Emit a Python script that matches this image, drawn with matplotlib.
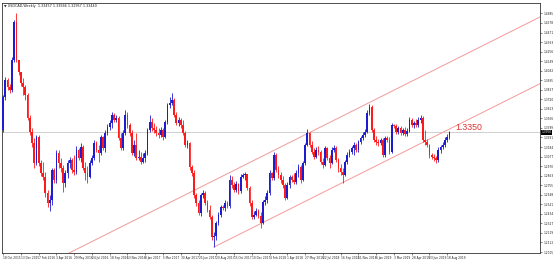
import matplotlib
matplotlib.use("Agg")
import matplotlib.pyplot as plt
import numpy as np
import pandas as pd

# weekly USDCAD bars (open = previous close)
first_open = 1.3376
close = [
    1.3746, 1.3937, 1.3859, 1.3825, 1.4162, 1.4589, 1.4162, 1.4027, 1.3903, 1.3859,
    1.3769, 1.3510, 1.3353, 1.3230, 1.3005, 1.3297, 1.3005, 1.2892, 1.2847, 1.2668,
    1.2555, 1.2589, 1.2926, 1.2814, 1.3117, 1.3005, 1.2948, 1.2780, 1.2892, 1.3005,
    1.3038, 1.2926, 1.2904, 1.3151, 1.3061, 1.3185, 1.2948, 1.2892, 1.2847, 1.3005,
    1.3061, 1.3230, 1.3151, 1.3117, 1.3297, 1.3173, 1.3342, 1.3409, 1.3454, 1.3544,
    1.3488, 1.3510, 1.3286, 1.3173, 1.3342, 1.3544, 1.3432, 1.3342, 1.3117, 1.3207,
    1.3061, 1.3072, 1.3016, 1.3061, 1.3117, 1.3376, 1.3465, 1.3398, 1.3376, 1.3342,
    1.3319, 1.3376, 1.3297, 1.3465, 1.3656, 1.3679, 1.3713, 1.3544, 1.3454, 1.3488,
    1.3432, 1.3342, 1.3207, 1.3230, 1.2960, 1.2892, 1.2645, 1.2555, 1.2443, 1.2645,
    1.2668, 1.2555, 1.2477, 1.2398, 1.2173, 1.2185, 1.2331, 1.2420, 1.2510, 1.2499,
    1.2555, 1.2522, 1.2814, 1.2758, 1.2701, 1.2769, 1.2690, 1.2847, 1.2870, 1.2881,
    1.2724, 1.2555, 1.2398, 1.2420, 1.2465, 1.2409, 1.2331, 1.2566, 1.2589, 1.2668,
    1.2892, 1.2836, 1.3095, 1.2926, 1.2870, 1.2814, 1.2758, 1.2611, 1.2758, 1.2847,
    1.2814, 1.2791, 1.2892, 1.2960, 1.2814, 1.3005, 1.3207, 1.3342, 1.3207, 1.3128,
    1.3072, 1.3151, 1.3128, 1.3016, 1.2982, 1.3173, 1.3061, 1.3005, 1.3151, 1.3173,
    1.3038, 1.2948, 1.2904, 1.2870, 1.3016, 1.3095, 1.3128, 1.3173, 1.3207, 1.3151,
    1.3241, 1.3286, 1.3319, 1.3353, 1.3566, 1.3634, 1.3376, 1.3263, 1.3241, 1.3230,
    1.3263, 1.3095, 1.3286, 1.3263, 1.3128, 1.3432, 1.3420, 1.3353, 1.3398, 1.3342,
    1.3376, 1.3331, 1.3364, 1.3488, 1.3432, 1.3454, 1.3432, 1.3488, 1.3510, 1.3263,
    1.3241, 1.3207, 1.3095, 1.3072, 1.3061, 1.3038, 1.3151, 1.3185, 1.3207, 1.3263,
    1.3297, 1.3350,
]
high = [
    1.3769, 1.3971, 1.3960, 1.3892, 1.4196, 1.4611, 1.4690, 1.4162, 1.3993, 1.3960,
    1.3881, 1.3791, 1.3544, 1.3398, 1.3286, 1.3319, 1.3319, 1.3038, 1.3016, 1.2904,
    1.2701, 1.2645, 1.2948, 1.2948, 1.3151, 1.3151, 1.3061, 1.2982, 1.2926, 1.3038,
    1.3072, 1.3061, 1.3095, 1.3196, 1.3173, 1.3230, 1.3207, 1.3016, 1.2971, 1.3038,
    1.3095, 1.3263, 1.3252, 1.3207, 1.3319, 1.3308, 1.3376, 1.3443, 1.3488, 1.3578,
    1.3566, 1.3544, 1.3533, 1.3342, 1.3376, 1.3600, 1.3578, 1.3454, 1.3376, 1.3263,
    1.3342, 1.3151, 1.3128, 1.3117, 1.3151, 1.3398, 1.3544, 1.3510, 1.3454, 1.3420,
    1.3398, 1.3409, 1.3398, 1.3488, 1.3679, 1.3746, 1.3791, 1.3735, 1.3578, 1.3521,
    1.3510, 1.3488, 1.3364, 1.3263, 1.3241, 1.2982, 1.2926, 1.2668, 1.2589, 1.2668,
    1.2701, 1.2690, 1.2589, 1.2533, 1.2420, 1.2230, 1.2353, 1.2454, 1.2533, 1.2533,
    1.2589, 1.2578, 1.2870, 1.2859, 1.2791, 1.2802, 1.2780, 1.2881, 1.2892, 1.2904,
    1.2881, 1.2746, 1.2589, 1.2465, 1.2499, 1.2488, 1.2454, 1.2589, 1.2634, 1.2701,
    1.2926, 1.2904, 1.3128, 1.3117, 1.2971, 1.2904, 1.2859, 1.2780, 1.2791, 1.2870,
    1.2870, 1.2892, 1.2926, 1.2993, 1.2982, 1.3027, 1.3230, 1.3387, 1.3353, 1.3252,
    1.3173, 1.3185, 1.3196, 1.3151, 1.3061, 1.3196, 1.3185, 1.3095, 1.3185, 1.3207,
    1.3196, 1.3061, 1.2993, 1.2948, 1.3038, 1.3128, 1.3162, 1.3196, 1.3241, 1.3230,
    1.3263, 1.3308, 1.3353, 1.3387, 1.3600, 1.3668, 1.3656, 1.3398, 1.3308, 1.3274,
    1.3286, 1.3286, 1.3308, 1.3308, 1.3297, 1.3454, 1.3443, 1.3443, 1.3420, 1.3420,
    1.3398, 1.3409, 1.3398, 1.3521, 1.3510, 1.3477, 1.3499, 1.3521, 1.3544, 1.3533,
    1.3376, 1.3274, 1.3218, 1.3117, 1.3106, 1.3083, 1.3185, 1.3207, 1.3241, 1.3297,
    1.3331, 1.3364,
]
low = [
    1.3353, 1.3713, 1.3825, 1.3791, 1.3802, 1.4139, 1.4139, 1.3993, 1.3870, 1.3769,
    1.3713, 1.3488, 1.3319, 1.3185, 1.2948, 1.2982, 1.2971, 1.2859, 1.2814, 1.2623,
    1.2510, 1.2465, 1.2533, 1.2780, 1.2780, 1.2948, 1.2904, 1.2679, 1.2735, 1.2836,
    1.2948, 1.2892, 1.2870, 1.2881, 1.3038, 1.3016, 1.2926, 1.2814, 1.2780, 1.2836,
    1.2982, 1.3038, 1.3128, 1.3016, 1.3095, 1.3151, 1.3128, 1.3319, 1.3376, 1.3398,
    1.3465, 1.3465, 1.3263, 1.3151, 1.3151, 1.3319, 1.3398, 1.3308, 1.3095, 1.3083,
    1.3038, 1.3038, 1.2993, 1.3005, 1.3016, 1.3095, 1.3353, 1.3364, 1.3342, 1.3308,
    1.3286, 1.3297, 1.3263, 1.3286, 1.3443, 1.3623, 1.3656, 1.3521, 1.3432, 1.3420,
    1.3398, 1.3319, 1.3185, 1.3173, 1.2926, 1.2859, 1.2611, 1.2522, 1.2420, 1.2409,
    1.2611, 1.2533, 1.2454, 1.2375, 1.2140, 1.2061, 1.2140, 1.2308, 1.2398, 1.2477,
    1.2465, 1.2499, 1.2499, 1.2724, 1.2679, 1.2679, 1.2656, 1.2668, 1.2836, 1.2814,
    1.2701, 1.2522, 1.2375, 1.2375, 1.2409, 1.2387, 1.2275, 1.2319, 1.2533, 1.2555,
    1.2645, 1.2814, 1.2814, 1.2904, 1.2836, 1.2780, 1.2724, 1.2589, 1.2600, 1.2724,
    1.2791, 1.2769, 1.2769, 1.2847, 1.2780, 1.2802, 1.2982, 1.3196, 1.3185, 1.3106,
    1.3050, 1.3061, 1.3095, 1.2993, 1.2948, 1.2971, 1.3038, 1.2948, 1.2993, 1.3128,
    1.3016, 1.2904, 1.2870, 1.2780, 1.2859, 1.2993, 1.3072, 1.3106, 1.3095, 1.3128,
    1.3128, 1.3218, 1.3263, 1.3297, 1.3342, 1.3544, 1.3353, 1.3241, 1.3207, 1.3196,
    1.3207, 1.3072, 1.3072, 1.3241, 1.3106, 1.3117, 1.3398, 1.3331, 1.3331, 1.3319,
    1.3319, 1.3308, 1.3308, 1.3353, 1.3409, 1.3398, 1.3409, 1.3409, 1.3454, 1.3241,
    1.3207, 1.3185, 1.3061, 1.3050, 1.3027, 1.3005, 1.3016, 1.3117, 1.3162, 1.3185,
    1.3241, 1.3274,
]
start_date = "2015-10-18"
title = "USDCAD,Weekly  1.33457 1.33566 1.32957 1.33440"
price_tag = "1.3350"

# trend channel: anchor bar, anchor price, slope per bar
upper_anchor = (165, 1.3685)
lower_anchor = (95, 1.2061)
channel_slope = 0.00125

close = np.array(close)
high = np.array(high)
low = np.array(low)
opn = np.r_[first_open, close[:-1]]
n = len(close)
idx = np.arange(n)
dates = pd.date_range(start_date, periods=n, freq="7D")

BLUE = "#1c1cd0"
RED = "#ff1a1a"
LINE = "#f29a9a"

fig = plt.figure(figsize=(5.54, 2.60), dpi=100)
ax = fig.add_axes([2 / 554, 7 / 260, 538 / 554, 250 / 260])

up = close >= opn
cols = np.where(up, BLUE, RED)
ax.vlines(idx, low, high, colors=cols, lw=0.6, zorder=3)
body = np.abs(close - opn)
body = np.maximum(body, 0.0004)
ax.bar(idx, body, bottom=np.minimum(close, opn), width=0.78, color=cols,
       linewidth=0, zorder=4)

x0, x1 = -0.5, 241.8
y0, y1 = 1.1994, 1.4802

# channel lines (rays to the right edge)
ux = np.array([0, x1])
ax.plot(ux, upper_anchor[1] + (ux - upper_anchor[0]) * channel_slope,
        color=LINE, lw=0.7, zorder=2)
lx = np.array([lower_anchor[0], x1])
ax.plot(lx, lower_anchor[1] + (lx - lower_anchor[0]) * channel_slope,
        color=LINE, lw=0.7, zorder=2)

# bid line
ax.axhline(close[-1], color="#c8c8c8", lw=0.6, zorder=1)
ax.text(n + 1.5, close[-1] + 0.0008, price_tag, color="#e03030",
        fontsize=6.3, family="Liberation Sans", va="bottom", ha="left")

ax.set_xlim(x0, x1)
ax.set_ylim(y0, y1)

yt = np.arange(1.2005, y1 - 0.004, 0.01072)
ax.yaxis.tick_right()
ax.set_yticks(yt)
ax.set_yticklabels([f"{v:.4f}" for v in yt])
xt = idx[::8]
ax.set_xticks(xt)
ax.set_xticklabels([f"{d.day} {d:%b %Y}" for d in dates[::8]], ha="left")
ax.tick_params(axis="both", labelsize=2.1, length=1.5, width=0.4, pad=1,
               colors="#222222")

ax.text(1.003, close[-1], f"{close[-1]:.4f}", transform=ax.get_yaxis_transform(),
        fontsize=2.1, color="white", va="center", ha="left",
        bbox=dict(boxstyle="square,pad=0.15", fc="black", ec="none"))
ax.text(0.004, 0.995, "\u25bc " + title, transform=ax.transAxes, fontsize=2.4,
        va="top", ha="left", color="#222222")

for s in ax.spines.values():
    s.set_linewidth(0.6)
    s.set_color("#333333")

fig.savefig("out.png", dpi=100)
